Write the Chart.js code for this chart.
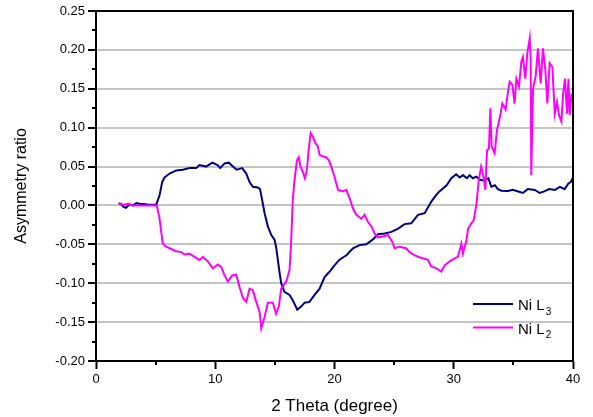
<!DOCTYPE html>
<html>
<head>
<meta charset="utf-8">
<script src="https://cdn.jsdelivr.net/npm/chart.js@4.4.1/dist/chart.umd.min.js"></script>
<style>
  html, body { margin: 0; padding: 0; background: #ffffff; }
  canvas { display: block; }
</style>
</head>
<body>
<canvas id="c" width="593" height="417"></canvas>
<script>
// ---- Data ----
const seriesNames = ['Ni L3', 'Ni L2'];
const seriesSubscripts = ['3', '2'];
const xTitle = '2 Theta (degree)';
const yTitle = 'Asymmetry ratio';
const xMajorTicks = [0, 10, 20, 30, 40];
const yMajorTicks = [-0.20, -0.15, -0.10, -0.05, 0.00, 0.05, 0.10, 0.15, 0.20, 0.25];

const niL3X = [1.9, 2.1, 2.3, 2.5, 2.8, 3.1, 3.4, 3.7, 4.0, 4.4,
  4.8, 5.05, 5.33, 5.55, 5.75, 6.17, 6.73, 7.28, 7.84, 8.4,
  8.68, 9.24, 9.75, 10.2, 10.42, 10.78, 11.14, 11.48, 11.8, 12.26,
  12.6, 12.88, 13.15, 13.57, 13.75, 13.86, 14.14, 14.41, 14.7, 14.97,
  15.12, 15.25, 15.4, 15.53, 15.8, 16.23, 16.5, 16.88, 17.2, 17.5,
  17.9, 18.33, 18.75, 19.17, 19.6, 20.0, 20.4, 20.8, 21.0, 21.55,
  22.1, 22.67, 23.2, 23.65, 24.2, 24.77, 25.3, 25.88, 26.44, 27.0,
  27.56, 28.12, 28.5, 28.8, 29.4, 29.8, 30.2, 30.5, 30.77, 31.1,
  31.33, 31.6, 31.9, 32.2, 32.5, 32.9, 33.15, 33.45, 33.7, 34.0,
  34.55, 34.95, 35.4, 35.8, 36.2, 36.8, 37.2, 37.6, 38.0, 38.5,
  38.9, 39.3, 39.6, 39.8, 40.0];
const niL3Y = [0.003, 0.002, -0.002, -0.003, 0.001, 0.000, 0.003, 0.002, 0.002, 0.001,
  0.001, 0.001, 0.013, 0.030, 0.036, 0.041, 0.045, 0.046, 0.048, 0.048,
  0.052, 0.050, 0.055, 0.052, 0.048, 0.054, 0.055, 0.050, 0.046, 0.048,
  0.041, 0.030, 0.024, 0.023, 0.021, 0.013, -0.010, -0.027, -0.038, -0.044,
  -0.055, -0.070, -0.087, -0.100, -0.111, -0.115, -0.122, -0.134, -0.130, -0.125,
  -0.124, -0.115, -0.107, -0.092, -0.085, -0.077, -0.070, -0.066, -0.064, -0.055,
  -0.051, -0.050, -0.044, -0.037, -0.036, -0.034, -0.030, -0.024, -0.023, -0.012,
  -0.010, 0.005, 0.013, 0.018, 0.026, 0.035, 0.040, 0.036, 0.039, 0.035,
  0.039, 0.035, 0.037, 0.033, 0.032, 0.035, 0.024, 0.026, 0.021, 0.019,
  0.0185, 0.020, 0.018, 0.016, 0.021, 0.020, 0.016, 0.018, 0.021, 0.020,
  0.024, 0.021, 0.028, 0.030, 0.036];

const niL2X = [1.9, 2.3, 2.7, 3.1, 3.5, 4.0, 4.5, 5.1, 5.33, 5.47,
  5.6, 5.89, 6.3, 6.73, 7.15, 7.42, 7.84, 8.26, 8.68, 8.96,
  9.38, 9.8, 10.22, 10.5, 10.78, 11.06, 11.42, 11.76, 12.04, 12.32,
  12.6, 12.88, 13.15, 13.44, 13.72, 13.86, 14.14, 14.41, 14.83, 15.1,
  15.33, 15.53, 15.95, 16.23, 16.37, 16.5, 16.65, 16.85, 17.0, 17.15,
  17.35, 17.52, 17.69, 17.83, 18.0, 18.19, 18.4, 18.6, 18.75, 19.03,
  19.3, 19.53, 19.73, 20.0, 20.3, 20.7, 20.99, 21.27, 21.55, 21.83,
  22.25, 22.52, 22.8, 23.1, 23.36, 23.64, 24.06, 24.48, 24.85, 25.04,
  25.46, 26.0, 26.3, 26.7, 27.0, 27.4, 27.84, 28.1, 28.54, 28.96,
  29.24, 29.66, 30.08, 30.35, 30.64, 30.77, 31.06, 31.2, 31.48, 31.67,
  31.9, 32.1, 32.3, 32.5, 32.65, 32.79, 32.95, 33.07, 33.18, 33.43,
  33.63, 33.85, 34.08, 34.35, 34.55, 34.69, 34.92, 35.1, 35.25, 35.47,
  35.67, 35.8, 36.0, 36.17, 36.37, 36.45, 36.5, 36.65, 36.87, 37.06,
  37.29, 37.48, 37.68, 37.85, 38.04, 38.27, 38.47, 38.66, 38.83, 39.03,
  39.16, 39.33, 39.5, 39.62, 39.72, 39.87, 40.0];
const niL2Y = [0.002, 0.001, 0.002, 0.000, 0.000, 0.000, 0.000, 0.000, -0.017, -0.034,
  -0.049, -0.053, -0.056, -0.059, -0.060, -0.063, -0.062, -0.066, -0.070, -0.066,
  -0.072, -0.081, -0.076, -0.079, -0.090, -0.098, -0.090, -0.089, -0.105, -0.119,
  -0.124, -0.107, -0.109, -0.124, -0.137, -0.158, -0.143, -0.125, -0.125, -0.139,
  -0.130, -0.107, -0.098, -0.083, -0.045, 0.007, 0.033, 0.058, 0.062, 0.050,
  0.043, 0.035, 0.046, 0.071, 0.093, 0.088, 0.080, 0.076, 0.065, 0.063,
  0.062, 0.058, 0.050, 0.037, 0.020, 0.018, 0.020, 0.009, -0.004, -0.012,
  -0.017, -0.012, -0.021, -0.027, -0.036, -0.041, -0.040, -0.038, -0.047, -0.055,
  -0.053, -0.055, -0.060, -0.064, -0.066, -0.068, -0.070, -0.078, -0.081, -0.085,
  -0.077, -0.072, -0.068, -0.066, -0.049, -0.062, -0.045, -0.030, -0.023, -0.019,
  0.001, 0.033, 0.050, 0.037, 0.020, 0.071, 0.073, 0.125, 0.076, 0.067,
  0.097, 0.112, 0.131, 0.123, 0.146, 0.159, 0.155, 0.131, 0.163, 0.153,
  0.185, 0.191, 0.163, 0.196, 0.215, 0.187, 0.039, 0.150, 0.166, 0.202,
  0.157, 0.202, 0.174, 0.131, 0.183, 0.178, 0.118, 0.133, 0.116, 0.108,
  0.142, 0.163, 0.118, 0.163, 0.116, 0.142, 0.140];

// ---- Build chart ----
const zip = (xs, ys) => xs.map((x, i) => ({ x: x, y: ys[i] }));
const FONT = "'Liberation Sans', Arial, sans-serif";
const NAVY = '#000080';
const MAGENTA = '#ff00ff';
const isMajor = (v, step) => Math.abs(v / step - Math.round(v / step)) < 1e-6;

const framePlugin = {
  id: 'frame',
  afterDraw(chart) {
    const ctx = chart.ctx, a = chart.chartArea;
    const xs = chart.scales.x, ys = chart.scales.y;
    ctx.save();
    ctx.strokeStyle = '#000';
    ctx.lineWidth = 2;
    ctx.strokeRect(a.left, a.top, a.right - a.left, a.bottom - a.top);
    // minor ticks
    ctx.beginPath();
    for (let i = 0; i < yMajorTicks.length - 1; i++) {
      const v = (yMajorTicks[i] + yMajorTicks[i + 1]) / 2;
      const p = Math.round(ys.getPixelForValue(v));
      ctx.moveTo(a.left - 4, p); ctx.lineTo(a.left, p);
    }
    for (let i = 0; i < xMajorTicks.length - 1; i++) {
      const v = (xMajorTicks[i] + xMajorTicks[i + 1]) / 2;
      const p = Math.round(xs.getPixelForValue(v));
      ctx.moveTo(p, a.bottom); ctx.lineTo(p, a.bottom + 4);
    }
    ctx.stroke();
    // legend
    chart.data.datasets.forEach((ds, i) => {
      const y = a.bottom - 57 + i * 23.5;
      ctx.strokeStyle = ds.borderColor;
      ctx.lineWidth = 2;
      ctx.beginPath();
      ctx.moveTo(a.right - 100, y); ctx.lineTo(a.right - 60, y);
      ctx.stroke();
      ctx.fillStyle = '#000';
      ctx.textBaseline = 'middle';
      ctx.textAlign = 'left';
      ctx.font = '15px ' + FONT;
      const main = seriesNames[i].slice(0, -1);
      ctx.fillText(main, a.right - 55, y + 2);
      const w = ctx.measureText(main).width;
      ctx.font = '10px ' + FONT;
      ctx.fillText(seriesSubscripts[i], a.right - 55 + w + 1, y + 8);
    });
    ctx.restore();
  }
};

new Chart(document.getElementById('c'), {
  type: 'line',
  data: {
    datasets: [
      { label: seriesNames[0], data: zip(niL3X, niL3Y), borderColor: NAVY, backgroundColor: NAVY,
        borderWidth: 2, pointRadius: 0, tension: 0, fill: false, order: 1 },
      { label: seriesNames[1], data: zip(niL2X, niL2Y), borderColor: MAGENTA, backgroundColor: MAGENTA,
        borderWidth: 2, pointRadius: 0, tension: 0, fill: false, order: 0 }
    ]
  },
  options: {
    responsive: false,
    animation: false,
    layout: { padding: { top: 11, right: 20, left: 0, bottom: 0 } },
    plugins: { legend: { display: false }, tooltip: { enabled: false } },
    scales: {
      x: {
        type: 'linear', min: 0, max: 40,
        afterFit(s) { s.height = 56; },
        ticks: {
          stepSize: 10, autoSkip: false, maxRotation: 0,
          color: '#000', font: { family: FONT, size: 13 }, padding: 3,
          callback: (v) => (xMajorTicks.includes(v) ? String(v) : '')
        },
        grid: { drawOnChartArea: false, drawTicks: true, tickLength: 8, tickColor: '#000', tickWidth: 2 },
        border: { display: true, color: '#000', width: 2 },
        title: { display: true, text: xTitle, color: '#000', font: { family: FONT, size: 17 }, padding: { top: 4, bottom: 0 } }
      },
      y: {
        type: 'linear', min: -0.2, max: 0.25,
        afterFit(s) { s.width = 96; },
        ticks: {
          stepSize: 0.05, autoSkip: false,
          color: '#000', font: { family: FONT, size: 13 }, padding: 3,
          callback: (v) => (isMajor(v, 0.05) ? v.toFixed(2) : '')
        },
        grid: {
          drawTicks: true, tickLength: 8, tickColor: '#000', tickWidth: 2, lineWidth: 2,
          color: (c) => {
            const v = c.tick ? c.tick.value : null;
            if (v === null) return 'rgba(0,0,0,0)';
            if (v <= -0.2 + 1e-6 || v >= 0.25 - 1e-6) return 'rgba(0,0,0,0)';
            return '#c4c4c4';
          }
        },
        border: { display: true, color: '#000', width: 2 },
        title: { display: true, text: yTitle, color: '#000', font: { family: FONT, size: 16 }, padding: { top: 12, bottom: 0 } }
      }
    }
  },
  plugins: [framePlugin]
});
</script>
</body>
</html>
